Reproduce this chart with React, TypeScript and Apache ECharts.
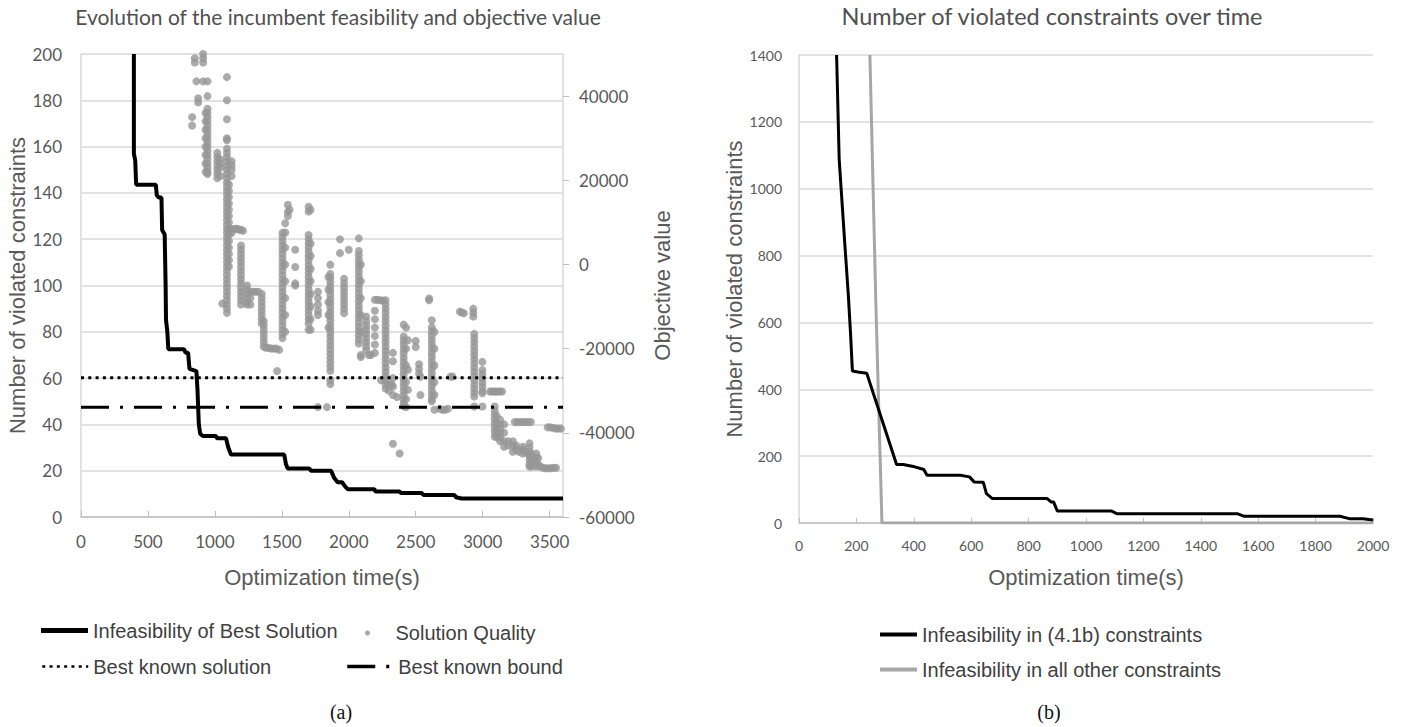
import React, { useEffect, useRef } from 'react';
import * as echarts from 'echarts';

// ---- Panel (a) data ----
const bestInfeasibility: [number, number][] = [
  [395, 200], [395, 157], [405, 154], [412, 143.5], [559, 143.5], [566, 139], [582, 138], [601, 138],
  [606, 124], [625, 122], [630, 122], [632, 100], [635, 85], [645, 80], [652, 72.5], [770, 72.5],
  [780, 71], [800, 71], [810, 64], [862, 63], [870, 55], [880, 40], [890, 36], [910, 35], [1008, 35],
  [1015, 34], [1083, 34], [1100, 30], [1120, 27], [1518, 27], [1530, 23], [1543, 21], [1705, 21],
  [1718, 20], [1868, 20], [1890, 17], [1917, 15], [1950, 15], [1975, 13], [1992, 12], [2191, 12],
  [2200, 11], [2378, 11], [2390, 10.4], [2543, 10.4], [2560, 9.5], [2790, 9.5], [2800, 8.5],
  [2842, 8], [3600, 8],
];

const bestKnownSolution = -26900;
const bestKnownBound = -33900;
const timeSpanA = [0, 3600];

// Solution quality: [time, objective values read at that time]
const qualityColumns: [number, number[]][] = [
  [830, [35000, 33000]],
  [850, [49000, 48000]],
  [862, [43500]],
  [875, [39500, 38500]],
  [912, [50000, 49000, 48000, 43500]],
  [930, [36000, 34000, 32000, 30000, 28000, 26000, 24000, 22000]],
  [945, [43500, 40000, 37000, 36000, 35000, 34000, 33000, 32000, 31000, 30000, 29000, 28000, 27000, 26000, 25000, 24000, 23000, 22000, 21500]],
  [1018, [26500, 25500, 24500, 23500, 22500, 21500, 20500]],
  [1040, [25000, 24000, 23000, 21000]],
  [1055, [-9300]],
  [1090, [44500, 39000, 34500, 30000, 29500, 27500, 26500, 25500, 24500, 23500, 22500, 21500, 20500, 19500, 18500, 17500, 16500, 15500, 14500, 13500, 12500, 11500, 10500, 9500, 8500, 7500, 6500, 5500, 4500, 3500, 2500, 1500, 500, -500, -1500, -2500, -3500, -4500, -5500, -6500, -7500, -8500, -9500, -10500, -11500]],
  [1105, [19000, 17500, 16000, 14500, 13000, 11500, 10000, 8500, 7000, 5500, 4000, 2500, 1000, -500]],
  [1125, [24500, 23500, 22500, 21000, 8500, 7500]],
  [1150, [8500]], [1165, [8500]], [1180, [8250]], [1210, [8000]],
  [1195, [8250, 4500, 3500, 2500, 1500, 500, -500, -1500, -2500, -3500, -4500, -5500, -6500, -7500, -8500, -9500]],
  [1240, [-5000, -6000, -7000, -8000, -9000, -9500]],
  [1265, [-6500, -8000, -9500]],
  [1285, [-6500]], [1305, [-6500]], [1325, [-6500]],
  [1350, [-7000, -8000, -9000, -10000, -11000, -12000, -13000, -14000]],
  [1365, [-13500, -14500, -15500, -16500, -17500, -18500, -19500]],
  [1380, [-19800]], [1400, [-19800]], [1420, [-20000]], [1440, [-20000]], [1460, [-20000]], [1480, [-20300]],
  [1465, [-25300]],
  [1505, [7500, 6500, 5500, 4500, 3500, 2500, 1500, 500, -500, -1500, -2500, -3500, -4500, -5500, -6500, -7500, -8500, -9500, -10500, -11500, -12500, -13500, -14500, -15500, -16500, -17500]],
  [1525, [9800, 7600, 4000, 0, -4000, -8000, -12000, -16000]],
  [1545, [14200, 12500, 11500]], [1558, [13000]],
  [1600, [3500, -600, -4500, -5000]],
  [1700, [13700, 12600, 7000, 6000, 5000, 4000, 3000, 2000, 1000, 0, -1000, -2000, -3000, -4000, -5000, -6000, -7000, -8000, -9000, -10000, -11000, -12000, -13000, -14000, -15500]],
  [1715, [13000, 5000, 2000, -1000, -4000, -7000, -10000, -13000, -15500]],
  [1770, [-6500, -8000, -9500, -11000, -12000, -33900]],
  [1837, [-33900]],
  [1848, [-3000, -6000, -9000, -12000, -15000]],
  [1862, [-50, -2250, -3250, -4250, -5250, -6250, -7250, -8250, -9250, -10250, -11250, -12250, -13250, -14250, -15250, -16250, -17250, -18250, -19250, -20250, -21250, -22250, -23250, -24250, -25250, -27500, -28400]],
  [1934, [6000, 2700]],
  [1965, [-3400, -4500, -5500, -6500, -7500, -8500, -9500, -10500, -11600]],
  [2000, [3500]],
  [2075, [6200, 3200, 2200, 1200, 200, -800, -1800, -2800, -3800, -4800, -5800, -6800, -7800, -8800, -9800, -10800, -11800, -12800, -13800, -14800, -15800, -16800, -17800, -18800]],
  [2090, [0, -4000, -8000, -12000, -16000, -21500, -22000]],
  [2130, [-12400, -13500, -14500, -15500, -16500, -17500, -18500, -19500, -20400]],
  [2150, [-21500]], [2165, [-21500]],
  [2195, [-8400, -11000, -13000, -15000, -17000, -19000, -21000]],
  [2215, [-8400]], [2235, [-8500]], [2255, [-8600]],
  [2240, [-27500]],
  [2275, [-8500, -9500, -10500, -11500, -12500, -13500, -14500, -15500, -16500, -17500, -18500, -19500, -20500, -21500, -22500, -23500, -24500, -25500, -26500, -27500, -28500, -29500]],
  [2300, [-28500, -30000]], [2320, [-28500]],
  [2330, [-21000, -23000, -27000, -29000, -31000, -42600]],
  [2360, [-31500]],
  [2380, [-44900]],
  [2410, [-14300, -17100, -18100, -19100, -20100, -21100, -22100, -23100, -24100, -25100, -26100, -27100, -28100, -29100, -30100, -31100, -32100, -33100, -33700]],
  [2428, [-15000, -20000, -24000, -28000, -32000, -33900]],
  [2442, [-18000, -25000, -29800]],
  [2500, [-18200, -19600]],
  [2525, [-23700, -24800, -25900]],
  [2535, [-26700, -31000]],
  [2600, [-8100, -8500]],
  [2620, [-13250, -14900, -15900, -16900, -17900, -18900, -19900, -20900, -21900, -22900, -23900, -24900, -25900, -26900, -27900, -28900, -29900, -30900, -31900, -32500]],
  [2640, [-16000, -20000, -24000, -28000, -31000, -34500]],
  [2680, [-34300]], [2700, [-34500]], [2720, [-34500]], [2740, [-34300]],
  [2760, [-26650]], [2775, [-26650]],
  [2830, [-11200]], [2845, [-11400]], [2860, [-11600]],
  [2930, [-10500, -11500, -12400]],
  [2937, [-16500, -17500, -18500, -19500, -20500, -21500, -22500, -23500, -24500, -25500, -26500, -27500, -28500, -29500, -30500, -31400, -33750]],
  [2998, [-23150, -25100, -26100, -27100, -28100, -29100, -30100, -30600, -33750]],
  [3055, [-30200]], [3070, [-30200]], [3085, [-30200]], [3100, [-30200]], [3115, [-30200]], [3130, [-30200]], [3145, [-30200]],
  [3090, [-33750, -34750, -35750, -36750, -37750, -38750, -39750, -40900]],
  [3105, [-36000, -38000, -40000, -41000]],
  [3130, [-36900, -38000, -39000, -40000, -41000, -42000]],
  [3160, [-38000, -40000, -42000, -43300]],
  [3190, [-42000, -43000]],
  [3225, [-42000, -43000, -44500]],
  [3240, [-37450]], [3260, [-37450]], [3280, [-37450]], [3300, [-37450]], [3320, [-37450]], [3340, [-37450]], [3360, [-37450]],
  [3250, [-43000, -44000]], [3270, [-44500]],
  [3300, [-43300, -44000, -44900]], [3320, [-44500]], [3340, [-44900]],
  [3350, [-42500, -43500, -44500, -45500, -46500, -47500, -48000]],
  [3365, [-45000, -46500, -48000]],
  [3400, [-44900, -45900, -46900, -48000]],
  [3415, [-46000, -47500]],
  [3430, [-48000]], [3450, [-48300]], [3470, [-48400]], [3490, [-48400]], [3510, [-48400]], [3530, [-48300]], [3548, [-48300]],
  [3485, [-38700]], [3505, [-38700]], [3525, [-38800]], [3545, [-39000]], [3565, [-39000]], [3585, [-39000]],
];

const xTicksA = [0, 500, 1000, 1500, 2000, 2500, 3000, 3500];
const objTicks = [-60000, -40000, -20000, 0, 20000, 40000];

// ---- Panel (b) data ----
const constraints41b: [number, number][] = [
  [131, 1400], [140, 1088], [160, 830], [172, 680], [180, 560], [186, 455], [205, 452], [236, 448],
  [340, 175], [363, 175], [403, 168], [435, 160], [446, 143], [562, 143], [594, 138], [610, 123],
  [642, 122], [653, 88], [674, 73], [865, 73], [878, 63], [887, 63], [900, 36], [1088, 36],
  [1107, 28], [1527, 28], [1551, 20], [1885, 20], [1917, 13], [1965, 13], [2000, 9],
];
const otherConstraints: [number, number][] = [
  [247, 1400], [268, 650], [289, 0], [2000, 0],
];

const FONT_AXIS = 'Lato';
const FONT_NAME = 'Liberation Sans';
const GRID_COLOR = '#d9d9d9';
const TEXT_COLOR = '#595959';

const legendText = { fontFamily: FONT_NAME, fontSize: 20, color: '#404040' };
const plain = (v: number) => String(v);

function legendItem(name: any, left: number, top: number, itemWidth: number, itemHeight: number, extra: any) {
  return {
    data: [name], left, top, itemWidth, itemHeight, padding: 0, selectedMode: false,
    textStyle: legendText, itemGap: 0, ...extra,
  };
}

export default function App() {
  const ref = useRef<HTMLDivElement>(null);
  useEffect(() => {
    const chart = echarts.init(ref.current!, undefined, { renderer: 'svg' });
    const qualityPoints = qualityColumns.flatMap(([t, vals]) => vals.map((v) => [t, v]));
    const noSymbol = { opacity: 0 };
    const option: any = {
      animation: false,
      backgroundColor: '#ffffff',
      grid: [
        { left: 81, top: 54, width: 482, height: 463 },
        { left: 799, top: 55, width: 574, height: 468 },
      ],
      xAxis: [
        {
          gridIndex: 0, type: 'value', min: 0, max: 3600, interval: 500,
          name: 'Optimization time(s)', nameLocation: 'middle', nameGap: 49,
          nameTextStyle: { fontFamily: FONT_NAME, fontSize: 22, color: TEXT_COLOR },
          axisLine: { show: true, lineStyle: { color: '#bfbfbf', width: 1.5 } },
          axisTick: { show: true, inside: true, length: 6, lineStyle: { color: '#bfbfbf' }, customValues: xTicksA },
          axisLabel: { fontFamily: FONT_AXIS, fontSize: 17, color: TEXT_COLOR, margin: 16, customValues: xTicksA, formatter: plain },
          splitLine: { show: false },
        },
        {
          gridIndex: 1, type: 'value', min: 0, max: 2000, interval: 200,
          name: 'Optimization time(s)', nameLocation: 'middle', nameGap: 43,
          nameTextStyle: { fontFamily: FONT_NAME, fontSize: 22, color: TEXT_COLOR },
          axisLine: { show: true, lineStyle: { color: '#bfbfbf', width: 1.5 } },
          axisTick: { show: true, inside: true, length: 5, lineStyle: { color: '#bfbfbf' } },
          axisLabel: { fontFamily: FONT_AXIS, fontSize: 14, color: TEXT_COLOR, margin: 15, formatter: plain },
          splitLine: { show: false },
        },
      ],
      yAxis: [
        {
          gridIndex: 0, type: 'value', min: 0, max: 200, interval: 20,
          name: 'Number of violated constraints', nameLocation: 'middle', nameGap: 52,
          nameTextStyle: { fontFamily: FONT_NAME, fontSize: 22, color: TEXT_COLOR },
          axisLine: { show: true, lineStyle: { color: GRID_COLOR, width: 1.5 } },
          axisTick: { show: false },
          axisLabel: { fontFamily: FONT_AXIS, fontSize: 17, color: TEXT_COLOR, margin: 19, formatter: plain },
          splitLine: { show: true, lineStyle: { color: GRID_COLOR, width: 1.5 } },
        },
        {
          gridIndex: 0, type: 'value', position: 'right', min: -60000, max: 50000, interval: 20000,
          name: 'Objective value', nameLocation: 'middle', nameGap: 88,
          nameTextStyle: { fontFamily: FONT_NAME, fontSize: 22, color: TEXT_COLOR },
          axisLine: { show: true, lineStyle: { color: GRID_COLOR, width: 1.5 } },
          axisTick: { show: true, length: 6, lineStyle: { color: '#bfbfbf' }, customValues: objTicks },
          axisLabel: { fontFamily: FONT_AXIS, fontSize: 17, color: TEXT_COLOR, margin: 16, customValues: objTicks, formatter: plain },
          splitLine: { show: false },
        },
        {
          gridIndex: 1, type: 'value', min: 0, max: 1400, interval: 200,
          name: 'Number of violated constraints', nameLocation: 'middle', nameGap: 54,
          nameTextStyle: { fontFamily: FONT_NAME, fontSize: 22, color: TEXT_COLOR },
          axisLine: { show: true, lineStyle: { color: GRID_COLOR, width: 1.5 } },
          axisTick: { show: false },
          axisLabel: { fontFamily: FONT_AXIS, fontSize: 14, color: TEXT_COLOR, margin: 17, formatter: plain },
          splitLine: { show: true, lineStyle: { color: GRID_COLOR, width: 1.5 } },
        },
      ],
      legend: [
        legendItem('Infeasibility of Best Solution', 38.5, 620.5, 47, 14,
          { itemStyle: noSymbol, lineStyle: { width: 5, color: '#000' } }),
        legendItem({ name: 'Solution Quality', icon: 'circle' }, 365, 623, 46, 5,
          { itemStyle: { color: '#a6a6a6', opacity: 1 } }),
        legendItem('Best known solution', 41, 656.5, 46, 14,
          { itemStyle: noSymbol, lineStyle: { width: 2.5, color: '#000' } }),
        legendItem('Best known bound', 345.5, 656.5, 46, 14,
          { itemStyle: noSymbol, lineStyle: { width: 3.5, color: '#000' } }),
        legendItem('Infeasibility in (4.1b) constraints', 878, 624.5, 37, 14,
          { itemStyle: noSymbol, lineStyle: { width: 4, color: '#000' } }),
        legendItem('Infeasibility in all other constraints', 878, 659.5, 37, 14,
          { itemStyle: noSymbol, lineStyle: { width: 4, color: '#a6a6a6' } }),
      ],
      graphic: [
        {
          type: 'text', x: 338, y: 16,
          style: { text: 'Evolution of the incumbent feasibility and objective value', fontFamily: 'Lato', fontSize: 21, fill: '#505050', align: 'center', verticalAlign: 'middle' },
        },
        {
          type: 'text', x: 1052, y: 16,
          style: { text: 'Number of violated constraints over time', fontFamily: 'Lato', fontSize: 23.5, fill: '#505050', align: 'center', verticalAlign: 'middle' },
        },
        {
          type: 'text', x: 341, y: 712,
          style: { text: '(a)', fontFamily: 'Liberation Serif', fontSize: 20, fill: '#111', align: 'center', verticalAlign: 'middle' },
        },
        {
          type: 'text', x: 1049, y: 712,
          style: { text: '(b)', fontFamily: 'Liberation Serif', fontSize: 20, fill: '#111', align: 'center', verticalAlign: 'middle' },
        },
      ],
      series: [
        {
          name: 'Solution Quality', type: 'scatter', xAxisIndex: 0, yAxisIndex: 1,
          data: qualityPoints, symbolSize: 8, itemStyle: { color: '#969696' }, z: 2,
        },
        {
          name: 'Infeasibility of Best Solution', type: 'line', xAxisIndex: 0, yAxisIndex: 0,
          data: bestInfeasibility, showSymbol: false, symbol: 'none',
          lineStyle: { color: '#000', width: 4 }, itemStyle: { color: '#000' }, z: 3,
        },
        {
          name: 'Best known solution', type: 'line', xAxisIndex: 0, yAxisIndex: 1,
          data: timeSpanA.map((t) => [t, bestKnownSolution]), symbol: 'none',
          lineStyle: { color: '#000', width: 3, type: [3, 4.3] }, itemStyle: { color: '#000' }, z: 4,
        },
        {
          name: 'Best known bound', type: 'line', xAxisIndex: 0, yAxisIndex: 1,
          data: timeSpanA.map((t) => [t, bestKnownBound]), symbol: 'none',
          lineStyle: { color: '#000', width: 3, type: [28, 11, 3, 11] }, itemStyle: { color: '#000' }, z: 4,
        },
        {
          name: 'Infeasibility in all other constraints', type: 'line', xAxisIndex: 1, yAxisIndex: 2,
          data: otherConstraints, symbol: 'none',
          lineStyle: { color: '#a6a6a6', width: 3 }, itemStyle: { color: '#a6a6a6' }, z: 2,
        },
        {
          name: 'Infeasibility in (4.1b) constraints', type: 'line', xAxisIndex: 1, yAxisIndex: 2,
          data: constraints41b, symbol: 'none',
          lineStyle: { color: '#000', width: 3 }, itemStyle: { color: '#000' }, z: 3,
        },
      ],
    };
    chart.setOption(option);
    return () => chart.dispose();
  }, []);
  return (
    <div
      ref={ref}
      style={{ position: 'fixed', left: 0, top: 0, width: 1411, height: 727, background: '#fff' }}
    />
  );
}
